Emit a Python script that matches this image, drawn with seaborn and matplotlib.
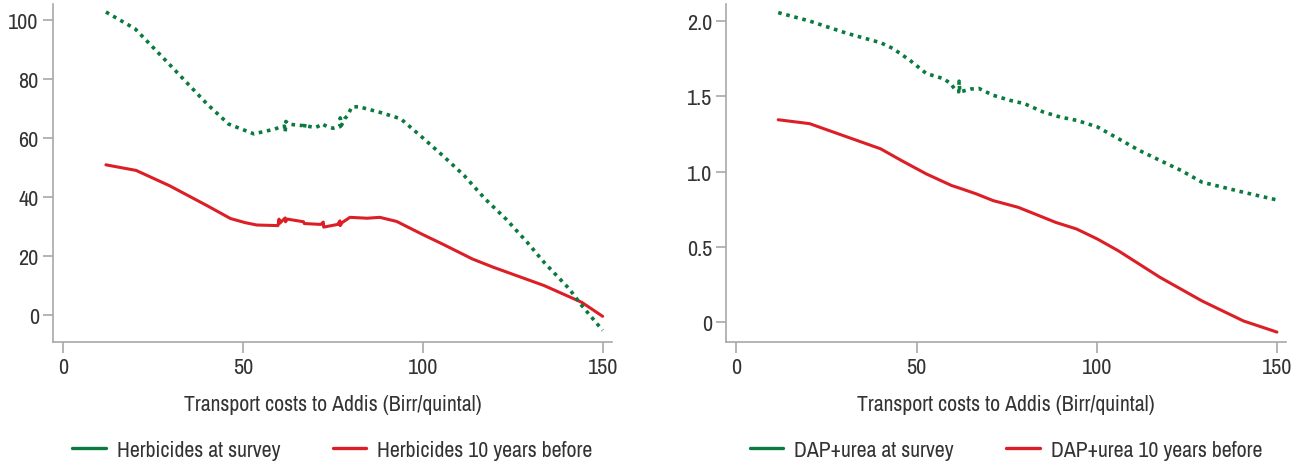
import numpy as np
import pandas as pd
import seaborn as sns
import matplotlib
matplotlib.use("Agg")
import matplotlib.pyplot as plt
from matplotlib.lines import Line2D
from matplotlib import font_manager

# ---------------- data ----------------
herb_survey_x = [11.9, 20.0, 29.5, 40.0, 46.0, 53.0, 58.8, 60.5, 61.5, 61.7, 61.9, 62.5, 64.0,
                 66.5, 67.0, 67.2, 68.0, 70.0, 71.5, 71.9, 72.5, 73.5, 75.0, 76.9, 77.0, 77.3,
                 78.2, 79.0, 80.2, 82.1, 88.0, 93.8, 99.7, 105.5, 111.4, 117.2, 123.0, 128.9,
                 133.6, 140.6, 144.1, 149.9]
herb_survey_y = [102.7, 97.0, 85.0, 71.5, 64.7, 61.4, 63.0, 63.8, 64.0, 62.0, 65.6, 64.8, 64.5,
                 64.2, 63.0, 64.9, 64.0, 63.5, 64.3, 64.8, 64.4, 63.8, 63.3, 63.8, 66.8, 64.2,
                 66.5, 67.5, 70.5, 70.6, 68.7, 66.5, 60.3, 54.0, 47.3, 39.4, 32.6, 24.7,
                 17.9, 8.9, 3.2, -5.2]

herb_before_x = [11.9, 20.3, 29.6, 40.1, 46.5, 50.6, 53.8, 59.7, 60.0, 60.1, 61.7, 61.8, 62.3,
                 66.8, 67.0, 71.6, 72.3, 72.4, 76.3, 76.9, 77.0, 77.5, 79.7, 84.5, 88.0, 92.7,
                 99.7, 105.5, 113.7, 119.5, 133.6, 144.1, 149.9]
herb_before_y = [50.9, 49.0, 43.8, 37.0, 32.7, 31.3, 30.5, 30.3, 32.5, 31.0, 32.9, 31.6, 32.5,
                 31.6, 31.0, 30.7, 31.5, 29.8, 30.7, 31.9, 30.3, 31.3, 33.1, 32.8, 33.1, 31.7,
                 27.4, 24.0, 19.0, 16.2, 10.0, 4.3, -0.45]

dap_survey_x = [11.6, 20.3, 30.7, 40.0, 43.4, 48.1, 52.7, 57.3, 59.5, 60.2, 61.0, 61.7, 61.8,
                62.0, 63.0, 65.0, 67.2, 71.2, 75.9, 79.9, 85.1, 89.8, 94.4, 100.2, 106.0,
                111.8, 117.6, 123.4, 129.2, 134.9, 140.7, 150.0]
dap_survey_y = [2.056, 2.000, 1.918, 1.856, 1.818, 1.740, 1.651, 1.618, 1.585, 1.560, 1.535,
                1.530, 1.600, 1.530, 1.535, 1.548, 1.553, 1.507, 1.473, 1.451, 1.396, 1.362,
                1.340, 1.296, 1.218, 1.140, 1.073, 1.007, 0.929, 0.896, 0.862, 0.811]

dap_before_x = [11.6, 20.3, 29.5, 40.0, 45.8, 52.7, 59.7, 62.0, 66.6, 71.2, 78.2, 82.8, 88.6,
                94.4, 100.2, 106.0, 117.6, 129.2, 140.7, 150.0]
dap_before_y = [1.344, 1.318, 1.240, 1.151, 1.073, 0.984, 0.907, 0.889, 0.851, 0.807, 0.762,
                0.718, 0.662, 0.618, 0.551, 0.473, 0.296, 0.140, 0.007, -0.067]

left_labels = ["Herbicides at survey", "Herbicides 10 years before"]
right_labels = ["DAP+urea at survey", "DAP+urea 10 years before"]
xlabel = "Transport costs to Addis (Birr/quintal)"
x_ticks = [0, 50, 100, 150]
left_yticks = [0, 20, 40, 60, 80, 100]
right_yticks = [0, 0.5, 1.0, 1.5, 2.0]
right_yticklabels = ["0", "0.5", "1.0", "1.5", "2.0"]

GREEN = "#0b7a3e"
RED = "#dc1f26"
TEXT = "#333333"
GRAY = "#a8a8a8"

sns.set_theme(style="white")

# pick a condensed family if one is installed, otherwise Roboto
_names = sorted({f.name for f in font_manager.fontManager.ttflist})
_narrow = [n for n in _names if ("Narrow" in n or "Condensed" in n)]
if _narrow:
    FAMILY = _narrow[0]
    TICK_FS, LAB_FS = 16.0, 15.7
else:
    FAMILY = "Roboto"
    TICK_FS, LAB_FS = 13.0, 12.3
plt.rcParams['font.family'] = [FAMILY, 'DejaVu Sans']

fig = plt.figure(figsize=(13.13, 4.64), dpi=100)
axL = fig.add_axes([0.0401, 0.2614, 0.4260, 0.7278])
axR = fig.add_axes([0.5529, 0.2614, 0.4265, 0.7278])

def draw(ax, xs, ys, xb, yb, labels):
    d1 = pd.DataFrame({"x": xs, "y": ys})
    d2 = pd.DataFrame({"x": xb, "y": yb})
    sns.lineplot(data=d2, x="x", y="y", ax=ax, color=RED, lw=2.2, sort=False,
                 estimator=None, solid_capstyle="round")
    sns.lineplot(data=d1, x="x", y="y", ax=ax, color=GREEN, lw=2.6, sort=False,
                 estimator=None, linestyle=(0, (1.0, 1.3)))
    ax.set_xlim(-2.9, 152.5)
    ax.set_xticks(x_ticks)
    ax.set_xticklabels([str(t) for t in x_ticks])
    ax.set_ylabel("")
    ax.set_xlabel(xlabel, fontsize=LAB_FS, color=TEXT)
    ax.xaxis.set_label_coords(0.5, -0.155)
    for s in ["top", "right"]:
        ax.spines[s].set_visible(False)
    for s in ["left", "bottom"]:
        ax.spines[s].set_color(GRAY)
        ax.spines[s].set_linewidth(1.2)
    ax.tick_params(axis="both", colors=GRAY, labelcolor=TEXT, labelsize=TICK_FS,
                   length=7, width=1.2, pad=3, left=True, bottom=True)
    ax.tick_params(axis="x", length=8)
    handles = [Line2D([0], [0], color=GREEN, lw=2.4), Line2D([0], [0], color=RED, lw=2.4)]
    leg = ax.legend(handles, labels, loc="center", ncol=2, frameon=False,
                    bbox_to_anchor=(0.5, -0.32), fontsize=LAB_FS, handlelength=1.55,
                    handletextpad=0.5, columnspacing=2.4)
    for t in leg.get_texts():
        t.set_color(TEXT)

draw(axL, herb_survey_x, herb_survey_y, herb_before_x, herb_before_y, left_labels)
axL.set_ylim(-9.05, 105.4)
axL.set_yticks(left_yticks)
axL.set_yticklabels([str(t) for t in left_yticks])

draw(axR, dap_survey_x, dap_survey_y, dap_before_x, dap_before_y, right_labels)
axR.set_ylim(-0.131, 2.113)
axR.set_yticks(right_yticks)
axR.set_yticklabels(right_yticklabels)

fig.savefig("out.png", dpi=100, facecolor="white")
